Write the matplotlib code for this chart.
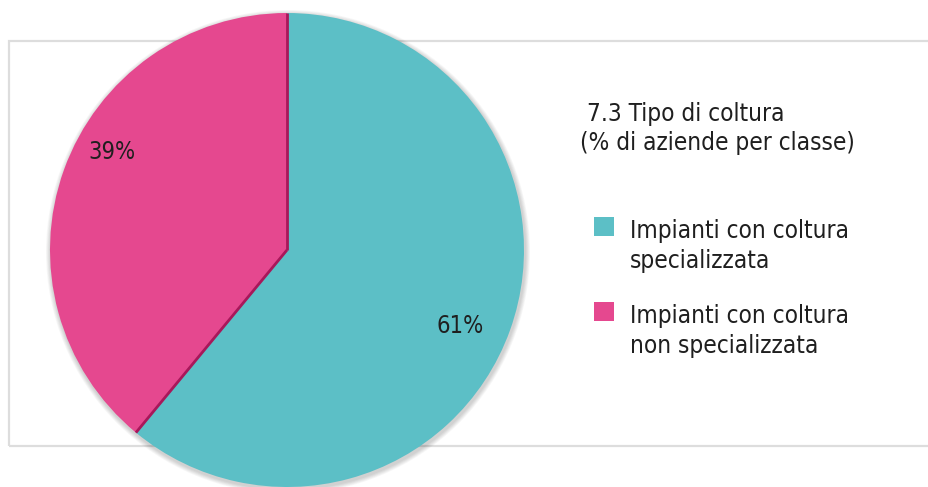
import numpy as np
import matplotlib.pyplot as plt
from matplotlib.patches import Rectangle, Circle

# quota di aziende per tipo di coltura
categorie = [['Impianti con coltura', 'non specializzata'],
             ['Impianti con coltura', 'specializzata']]
quote = [39, 61]
colori = ['#e5488f', '#5cbfc6']
titolo = ['7.3 Tipo di coltura', '(% di aziende per classe)']

plt.rcParams['font.family'] = ['DejaVu Sans']
plt.rcParams['font.stretch'] = 'condensed'

W, H = 929, 487
fig = plt.figure(figsize=(W / 100, H / 100), dpi=100)
ax = fig.add_axes([0, 0, 1, 1])

# cornice grigia chiara
ax.add_patch(Rectangle((9, H - 446), 940, 405, fill=False,
                       edgecolor='#dddddd', linewidth=1.6, zorder=1))

cx, cy, r = 287, H - 250, 237

# ombra morbida attorno alla torta
for k in range(6):
    ax.add_patch(Circle((cx + 1, cy - 2), r + 1 + k * 0.8, color='#000000',
                        alpha=0.03, linewidth=0, zorder=2))

wedges, _ = ax.pie(quote, colors=colori, startangle=90, counterclock=True,
                   center=(cx, cy), radius=r, frame=True,
                   wedgeprops=dict(linewidth=0, zorder=3))
ax.set_xlim(0, W)
ax.set_ylim(0, H)
ax.set_aspect('equal')
ax.axis('off')

# bordo scuro lungo le linee di separazione
angoli = 90 + 360 * np.cumsum([0] + quote[:-1]) / sum(quote)
for a in angoli:
    t = np.deg2rad(a)
    ax.plot([cx, cx + r * np.cos(t)], [cy, cy + r * np.sin(t)],
            color='#a8175a', linewidth=2.0, zorder=4, solid_capstyle='butt')

testo = dict(color='#1f1f1f', fontsize=17.5)

# etichette percentuali
ax.text(112, H - 152, f'{quote[0]}%', ha='center', va='center', zorder=5,
        color='#1f1f1f', fontsize=17)
ax.text(460, H - 326, f'{quote[1]}%', ha='center', va='center', zorder=5,
        color='#1f1f1f', fontsize=17)

# titolo
ax.text(587, H - 121, titolo[0], ha='left', va='baseline', **testo)
ax.text(580, H - 150, titolo[1], ha='left', va='baseline', **testo)

# legenda
voci = [(1, H - 238), (0, H - 323)]
for i, y in voci:
    ax.add_patch(Rectangle((594, y + 2), 20, 19, facecolor=colori[i],
                           edgecolor='none', zorder=5))
    ax.text(630, y, categorie[i][0], ha='left', va='baseline', **testo)
    ax.text(630, y - 30, categorie[i][1], ha='left', va='baseline', **testo)

fig.savefig('out.png', dpi=100)
